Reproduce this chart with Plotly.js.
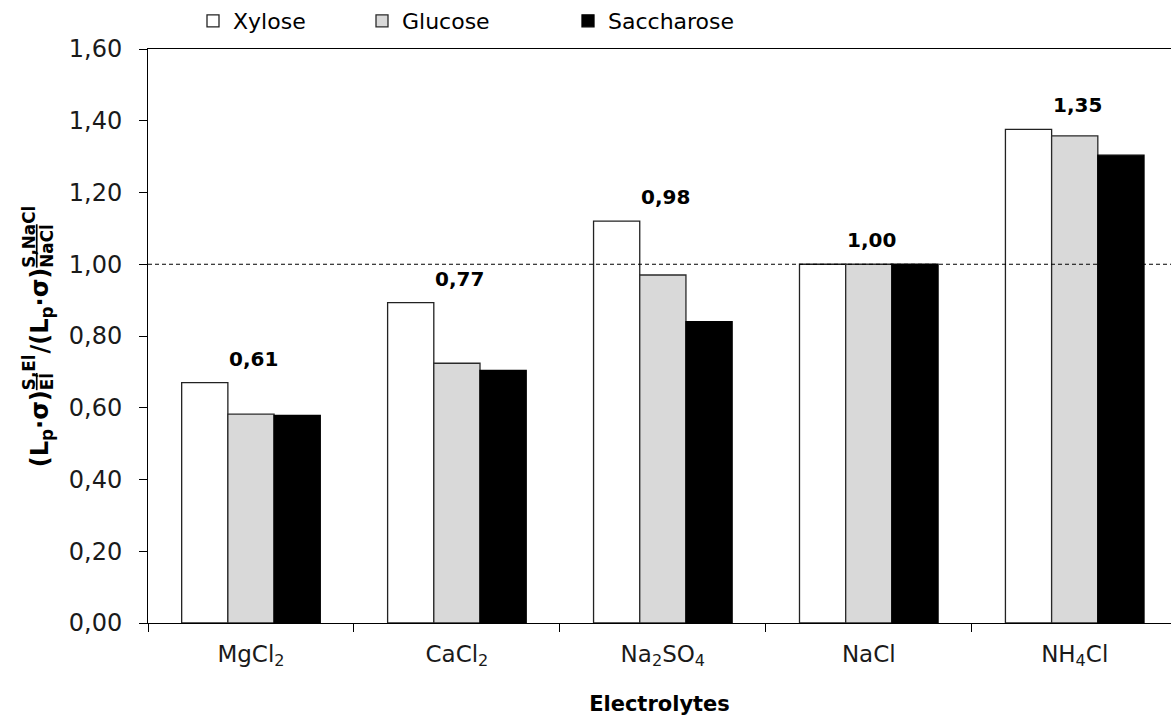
<!DOCTYPE html>
<html>
<head>
<meta charset="utf-8">
<script src="https://cdn.plot.ly/plotly-3.0.1.min.js"></script>
<style>
  html, body { margin: 0; padding: 0; background: #ffffff; }
  #chart { width: 1171px; height: 720px; }
</style>
</head>
<body>
<div id="chart"></div>
<script>
// Electrolyte categories (tick labels carry chemical subscripts)
const electrolytes = ['MgCl2', 'CaCl2', 'Na2SO4', 'NaCl', 'NH4Cl'];
const electrolyteLabels = ['MgCl<sub>2</sub>', 'CaCl<sub>2</sub>', 'Na<sub>2</sub>SO<sub>4</sub>', 'NaCl', 'NH<sub>4</sub>Cl'];

// Normalised (Lp·σ) ratios per solute
const xylose     = [0.670, 0.893, 1.120, 1.000, 1.376];
const glucose    = [0.582, 0.724, 0.970, 1.000, 1.358];
const saccharose = [0.579, 0.704, 0.840, 1.000, 1.304];

const yTicks = [0, 0.2, 0.4, 0.6, 0.8, 1.0, 1.2, 1.4, 1.6];

const FONT = 'DejaVu Sans, Verdana, sans-serif';

function barTrace(name, values, fill, outline, legendId) {
  return {
    type: 'bar',
    name: name,
    x: electrolytes,
    y: values,
    marker: { color: fill, line: { color: outline, width: 1.3 } },
    legend: legendId,
    hoverinfo: 'skip'
  };
}

const data = [
  barTrace('Xylose', xylose, '#ffffff', '#222222', 'legend'),
  barTrace('Glucose', glucose, '#d9d9d9', '#2a2a2a', 'legend2'),
  barTrace('Saccharose', saccharose, '#000000', '#000000', 'legend3')
];

// Group means written above each cluster of bars
const annotations = electrolytes.map((cat, i) => {
  const mean = (xylose[i] + glucose[i] + saccharose[i]) / 3;
  const top = Math.max(xylose[i], glucose[i], saccharose[i]);
  return {
    x: cat, y: top, xref: 'x', yref: 'y',
    text: '<b>' + mean.toFixed(2).replace('.', ',') + '</b>',
    showarrow: false, yanchor: 'bottom', yshift: 10, xshift: 3,
    font: { family: FONT, size: 20, color: '#000000' }
  };
});

const plotLeft = 148, plotWidth = 1171 - 148;
function legendAt(px) {
  return {
    x: (px - plotLeft) / plotWidth, xanchor: 'left',
    y: 1.012, yanchor: 'bottom', orientation: 'h',
    bgcolor: 'rgba(0,0,0,0)',
    font: { family: FONT, size: 22, color: '#000000' }
  };
}

const layout = {
  width: 1171,
  height: 720,
  margin: { l: 148, r: 0, t: 48, b: 97, pad: 0 },
  paper_bgcolor: '#ffffff',
  plot_bgcolor: '#ffffff',
  separators: ', ',
  barmode: 'group',
  bargap: 0.327,
  bargroupgap: 0,
  font: { family: FONT, color: '#000000' },
  showlegend: true,
  legend: legendAt(193),
  legend2: legendAt(362),
  legend3: legendAt(568),
  xaxis: {
    type: 'category',
    range: [-0.5, 4.4675],
    tickmode: 'array',
    tickvals: electrolytes,
    ticktext: electrolyteLabels,
    tickson: 'boundaries',
    ticks: 'outside',
    ticklen: 8,
    tickcolor: '#000000',
    tickwidth: 1,
    showline: true,
    linecolor: '#000000',
    linewidth: 1,
    mirror: true,
    showgrid: false,
    zeroline: false,
    tickfont: { family: FONT, size: 23, color: '#1a1a1a' },
    ticklabelstandoff: 10,
    title: {
      text: '<b>Electrolytes</b>',
      font: { family: FONT, size: 21, color: '#000000' },
      standoff: 26
    },
    automargin: false
  },
  yaxis: {
    range: [0, 1.6],
    tickmode: 'array',
    tickvals: yTicks,
    tickformat: '.2f',
    ticks: 'outside',
    ticklen: 8,
    tickcolor: '#000000',
    tickwidth: 1,
    showline: true,
    linecolor: '#000000',
    linewidth: 1,
    showgrid: false,
    zeroline: false,
    tickfont: { family: FONT, size: 24, color: '#1a1a1a' },
    ticklabelstandoff: 12,
    title: {
      text: '<b>(L<sub>p</sub>·σ)<sup>S,El</sup><sub><span style="text-decoration:overline">El</span></sub>/(L<sub>p</sub>·σ)<sup>S,NaCl</sup><sub><span style="text-decoration:overline">NaCl</span></sub></b>',
      font: { family: FONT, size: 24, color: '#000000' },
      standoff: 13
    },
    automargin: false
  },
  shapes: [{
    type: 'line', xref: 'paper', yref: 'y',
    x0: 0, x1: 1, y0: 1, y1: 1,
    line: { color: '#000000', width: 1, dash: '4px,3px' },
    layer: 'above'
  }],
  annotations: annotations
};

// Stack each subscript directly beneath the superscript that precedes it,
// raise the superscript a little, then move the following text past the
// wider of the two
function stackScripts(gd) {
  const title = gd.querySelector('.ytitle');
  if (!title) return;
  let supLen = 0;
  let pendingGap = null;
  title.querySelectorAll('tspan').forEach(t => {
    const dy = t.getAttribute('dy');
    if (dy === '-0.6em') {
      supLen = t.getComputedTextLength();
      t.setAttribute('dy', '-0.74em');
    } else if (dy === '0.42em' && supLen) {
      t.setAttribute('dy', '0.518em');
    } else if (dy === '0.3em' && supLen) {
      const subLen = t.getComputedTextLength();
      t.setAttribute('dx', -supLen);
      pendingGap = Math.max(0, supLen - subLen) + 1;
      supLen = 0;
    } else if (dy === '-0.21em' && pendingGap !== null) {
      t.setAttribute('dx', pendingGap);
      pendingGap = null;
    }
  });
}

Plotly.newPlot('chart', data, layout, { displayModeBar: false, staticPlot: true })
  .then(stackScripts);
</script>
</body>
</html>
